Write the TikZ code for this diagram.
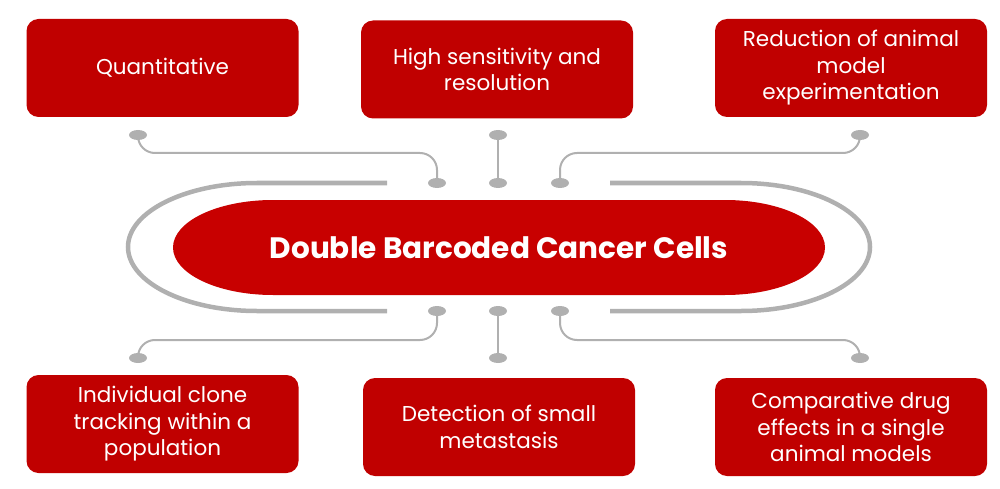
\documentclass[tikz,border=0pt]{standalone}
\usepackage{fontspec}
\setmainfont{Poppins}
\usetikzlibrary{shapes.geometric}
\definecolor{boxred}{RGB}{192,0,0}
\definecolor{pillred}{RGB}{200,0,0}
\definecolor{ringgray}{RGB}{176,176,176}
\begin{document}
\begin{tikzpicture}[x=1pt,y=1pt,
  box/.style={draw=none, fill=boxred, rounded corners=12pt, minimum width=272pt, minimum height=98pt, text=white, align=center, font=\fontsize{21.5}{26.5}\selectfont, inner sep=0pt},
  dot/.style={ellipse, fill=ringgray, minimum width=18pt, minimum height=10pt, inner sep=0pt},
  conn/.style={draw=ringgray, line width=2pt, rounded corners=17pt},
  straightconn/.style={draw=ringgray, line width=2.7pt},
  ring/.style={draw=ringgray, line width=4.5pt}]
\useasboundingbox (0,0) rectangle (1000,488);

% boxes
\node[box] (b1) at (162.5,420) {Quantitative};
\node[box] (b2) at (497,418.5) {High sensitivity and\\resolution};
\node[box] (b3) at (851,420) {Reduction of animal\\model\\experimentation};
\node[box] (b4) at (162.5,64) {Individual clone\\tracking within a\\population};
\node[box] (b5) at (499,61) {Detection of small\\metastasis};
\node[box] (b6) at (851,61) {Comparative drug\\effects in a single\\animal models};

% central pill
\fill[pillred] (273,288) -- (725,288) arc[start angle=90,end angle=-90,x radius=100,y radius=47.5]
  -- (273,193) arc[start angle=270,end angle=90,x radius=100,y radius=47.5] -- cycle;
\node[text=white, font=\fontsize{29.5}{34}\bfseries\selectfont] (core) at (499,240.5) {Double Barcoded Cancer Cells};

% outer ring
\draw[ring] (387,305) -- (257,305) arc[start angle=90,end angle=270,x radius=129,y radius=64] -- (387,177);
\draw[ring] (610,305) -- (741,305) arc[start angle=90,end angle=-90,x radius=129,y radius=64] -- (610,177);

% dots
\node[dot] (t1) at (138,353) {};
\node[dot] (t2) at (498,353) {};
\node[dot] (t3) at (860,353) {};
\node[dot] (u1) at (437,305) {};
\node[dot] (u2) at (498,305) {};
\node[dot] (u3) at (560,305) {};
\node[dot] (l1) at (437,177) {};
\node[dot] (l2) at (498,177) {};
\node[dot] (l3) at (560,177) {};
\node[dot] (s1) at (138,130) {};
\node[dot] (s2) at (498,130) {};
\node[dot] (s3) at (860,130) {};

% connectors
\draw[conn] (t1.center) |- (u1.center |- 0,335) -- (u1.center);
\draw[straightconn] (t2.center) -- (u2.center);
\draw[conn] (t3.center) |- (u3.center |- 0,335) -- (u3.center);
\draw[conn] (l1.center) |- (s1.center |- 0,148) -- (s1.center);
\draw[straightconn] (l2.center) -- (s2.center);
\draw[conn] (l3.center) |- (s3.center |- 0,148) -- (s3.center);
\end{tikzpicture}
\end{document}
